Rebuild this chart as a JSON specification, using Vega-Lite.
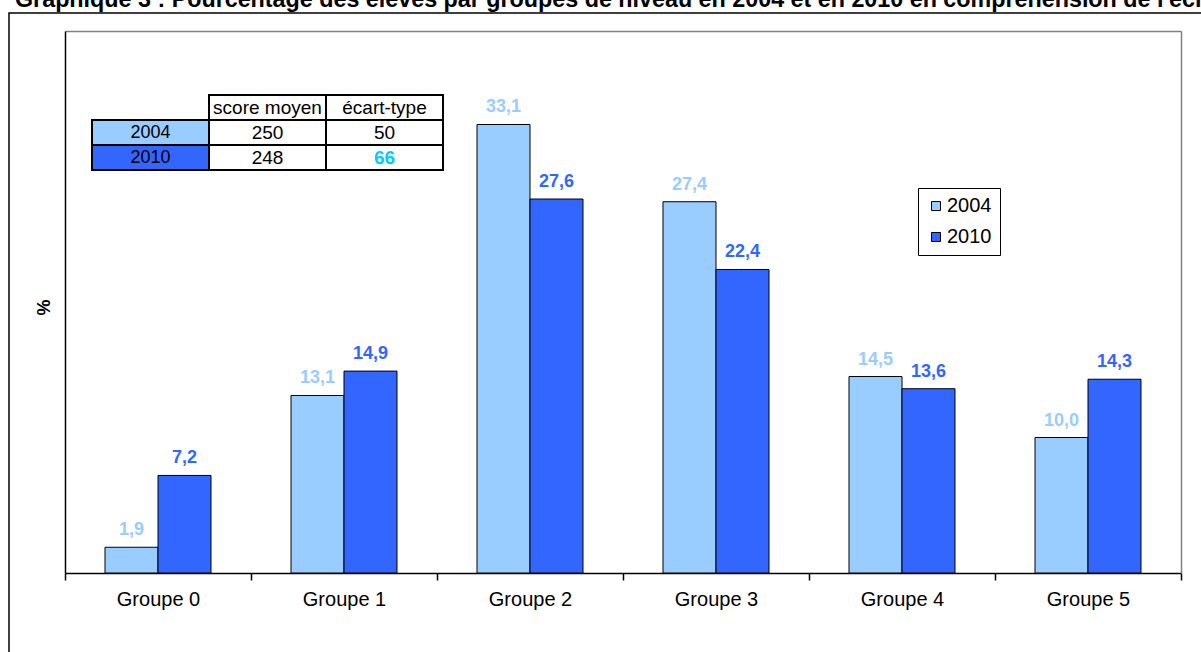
{
  "$schema": "https://vega.github.io/schema/vega-lite/v6.json",
  "width": 1200,
  "height": 648,
  "autosize": {"type": "none"},
  "padding": {"left": 9, "top": 13, "right": 0, "bottom": 0},
  "background": "white",
  "title": {
    "text": "Graphique 3 : Pourcentage des élèves par groupes de niveau en 2004 et en 2010 en compréhension de l'écrit",
    "anchor": "start",
    "frame": "group",
    "orient": "top",
    "offset": 0,
    "dx": 6,
    "dy": 17,
    "baseline": "alphabetic",
    "fontSize": 23.3,
    "fontWeight": "bold",
    "color": "black"
  },
  "datasets": {
    "groupes": [
      {"groupe": "Groupe 0", "annee": "2004", "pourcentage": 1.9},
      {"groupe": "Groupe 0", "annee": "2010", "pourcentage": 7.2},
      {"groupe": "Groupe 1", "annee": "2004", "pourcentage": 13.1},
      {"groupe": "Groupe 1", "annee": "2010", "pourcentage": 14.9},
      {"groupe": "Groupe 2", "annee": "2004", "pourcentage": 33.1},
      {"groupe": "Groupe 2", "annee": "2010", "pourcentage": 27.6},
      {"groupe": "Groupe 3", "annee": "2004", "pourcentage": 27.4},
      {"groupe": "Groupe 3", "annee": "2010", "pourcentage": 22.4},
      {"groupe": "Groupe 4", "annee": "2004", "pourcentage": 14.5},
      {"groupe": "Groupe 4", "annee": "2010", "pourcentage": 13.6},
      {"groupe": "Groupe 5", "annee": "2004", "pourcentage": 10.0},
      {"groupe": "Groupe 5", "annee": "2010", "pourcentage": 14.3}
    ],
    "scores": [
      {"annee": "2004", "score moyen": 250, "écart-type": 50},
      {"annee": "2010", "score moyen": 248, "écart-type": 66}
    ],
    "entetes": [
      {"colonne": "score moyen"},
      {"colonne": "écart-type"}
    ]
  },
  "config": {
    "font": "Liberation Sans",
    "view": {"stroke": "black", "strokeWidth": 1.5},
    "locale": {
      "number": {"decimal": ",", "thousands": " ", "grouping": [3], "currency": ["", " €"]}
    }
  },
  "layer": [
    {
      "data": {"name": "groupes"},
      "layer": [
        {
          "mark": {"type": "bar", "stroke": "black", "strokeWidth": 1},
          "encoding": {
            "x": {
              "field": "groupe", "type": "nominal", "sort": null,
              "scale": {"range": [56, 1172], "paddingInner": 0, "paddingOuter": 0},
              "axis": {
                "orient": "bottom", "offset": -88, "title": null, "labelAngle": 0,
                "labelFontSize": 20, "labelColor": "black", "labelPadding": 9,
                "domainColor": "black", "domainWidth": 1.5,
                "tickColor": "black", "tickWidth": 1.5, "tickSize": 7, "tickBand": "extent",
                "grid": false
              }
            },
            "xOffset": {
              "field": "annee", "type": "nominal",
              "scale": {"paddingInner": 0, "paddingOuter": 0.755}
            },
            "y": {
              "field": "pourcentage", "type": "quantitative",
              "scale": {"domain": [0, 40], "range": [560, 18], "nice": false, "zero": true},
              "axis": {
                "orient": "left", "offset": -56, "title": "%",
                "titleFontSize": 18, "titleFontWeight": "bold", "titleColor": "black",
                "titleX": -12, "titleY": 294,
                "labels": false, "ticks": false, "grid": false,
                "domainColor": "black", "domainWidth": 1.5
              }
            },
            "color": {
              "field": "annee", "type": "nominal",
              "scale": {"domain": ["2004", "2010"], "range": ["#99CCFF", "#3366FF"]},
              "legend": {
                "orient": "none", "legendX": 909, "legendY": 175, "title": null,
                "strokeColor": "black", "fillColor": "white", "padding": 8,
                "labelFontSize": 20, "labelColor": "black", "labelOffset": 1,
                "symbolType": "square", "symbolSize": 81,
                "symbolStrokeColor": "black", "symbolStrokeWidth": 1,
                "rowPadding": 11
              }
            }
          }
        },
        {
          "mark": {"type": "text", "fontSize": 18, "fontWeight": "bold", "baseline": "alphabetic", "dy": -12},
          "encoding": {
            "x": {
              "field": "groupe", "type": "nominal", "sort": null,
              "axis": {
                "orient": "top", "offset": -18, "title": null, "labels": false, "ticks": false,
                "domainColor": "#808080", "domainWidth": 1.5, "grid": false
              }
            },
            "xOffset": {"field": "annee", "type": "nominal"},
            "y": {
              "field": "pourcentage", "type": "quantitative",
              "axis": {
                "orient": "right", "offset": -28, "title": null, "labels": false, "ticks": false,
                "domainColor": "#808080", "domainWidth": 1.5, "grid": false
              }
            },
            "text": {"field": "pourcentage", "type": "quantitative", "format": ".1f"},
            "color": {"field": "annee", "type": "nominal"}
          }
        }
      ],
      "resolve": {"axis": {"x": "independent", "y": "independent"}}
    },
    {
      "layer": [
        {
          "data": {"name": "scores"},
          "transform": [{"fold": ["score moyen", "écart-type"], "as": ["colonne", "valeur"]}],
          "mark": {"type": "rect", "fill": "white", "stroke": "black", "strokeWidth": 2},
          "encoding": {
            "x": {
              "field": "colonne", "type": "nominal",
              "scale": {"domain": ["année", "score moyen", "écart-type"], "range": [83, 434], "paddingInner": 0, "paddingOuter": 0},
              "axis": null
            },
            "y": {
              "field": "annee", "type": "nominal",
              "scale": {"domain": ["en-tête", "2004", "2010"], "range": [82, 157], "paddingInner": 0, "paddingOuter": 0},
              "axis": null
            }
          }
        },
        {
          "data": {"name": "scores"},
          "mark": {"type": "rect", "stroke": "black", "strokeWidth": 2},
          "encoding": {
            "x": {"datum": "année", "type": "nominal", "axis": null},
            "y": {"field": "annee", "type": "nominal", "axis": null},
            "color": {"field": "annee", "type": "nominal"}
          }
        },
        {
          "data": {"name": "entetes"},
          "mark": {"type": "rect", "fill": "white", "stroke": "black", "strokeWidth": 2},
          "encoding": {
            "x": {"field": "colonne", "type": "nominal", "axis": null},
            "y": {"datum": "en-tête", "type": "nominal", "axis": null}
          }
        },
        {
          "data": {"name": "entetes"},
          "mark": {"type": "text", "fontSize": 19, "color": "black", "align": "center", "baseline": "middle"},
          "encoding": {
            "x": {"field": "colonne", "type": "nominal", "axis": null},
            "y": {"datum": "en-tête", "type": "nominal", "axis": null},
            "text": {"field": "colonne"}
          }
        },
        {
          "data": {"name": "scores"},
          "mark": {"type": "text", "fontSize": 18, "color": "black", "align": "center", "baseline": "middle"},
          "encoding": {
            "x": {"datum": "année", "type": "nominal", "axis": null},
            "y": {"field": "annee", "type": "nominal", "axis": null},
            "text": {"field": "annee"}
          }
        },
        {
          "data": {"name": "scores"},
          "transform": [
            {"fold": ["score moyen", "écart-type"], "as": ["colonne", "valeur"]},
            {"filter": "!(datum.annee === '2010' && datum.colonne === 'écart-type')"}
          ],
          "mark": {"type": "text", "fontSize": 19, "color": "black", "align": "center", "baseline": "middle"},
          "encoding": {
            "x": {"field": "colonne", "type": "nominal", "axis": null},
            "y": {"field": "annee", "type": "nominal", "axis": null},
            "text": {"field": "valeur", "type": "quantitative"}
          }
        },
        {
          "data": {"name": "scores"},
          "transform": [
            {"fold": ["score moyen", "écart-type"], "as": ["colonne", "valeur"]},
            {"filter": "datum.annee === '2010' && datum.colonne === 'écart-type'"}
          ],
          "mark": {"type": "text", "fontSize": 19, "fontWeight": "bold", "color": "#00CCFF", "align": "center", "baseline": "middle"},
          "encoding": {
            "x": {"field": "colonne", "type": "nominal", "axis": null},
            "y": {"field": "annee", "type": "nominal", "axis": null},
            "text": {"field": "valeur", "type": "quantitative"}
          }
        }
      ]
    }
  ],
  "resolve": {"scale": {"x": "independent", "y": "independent"}}
}
